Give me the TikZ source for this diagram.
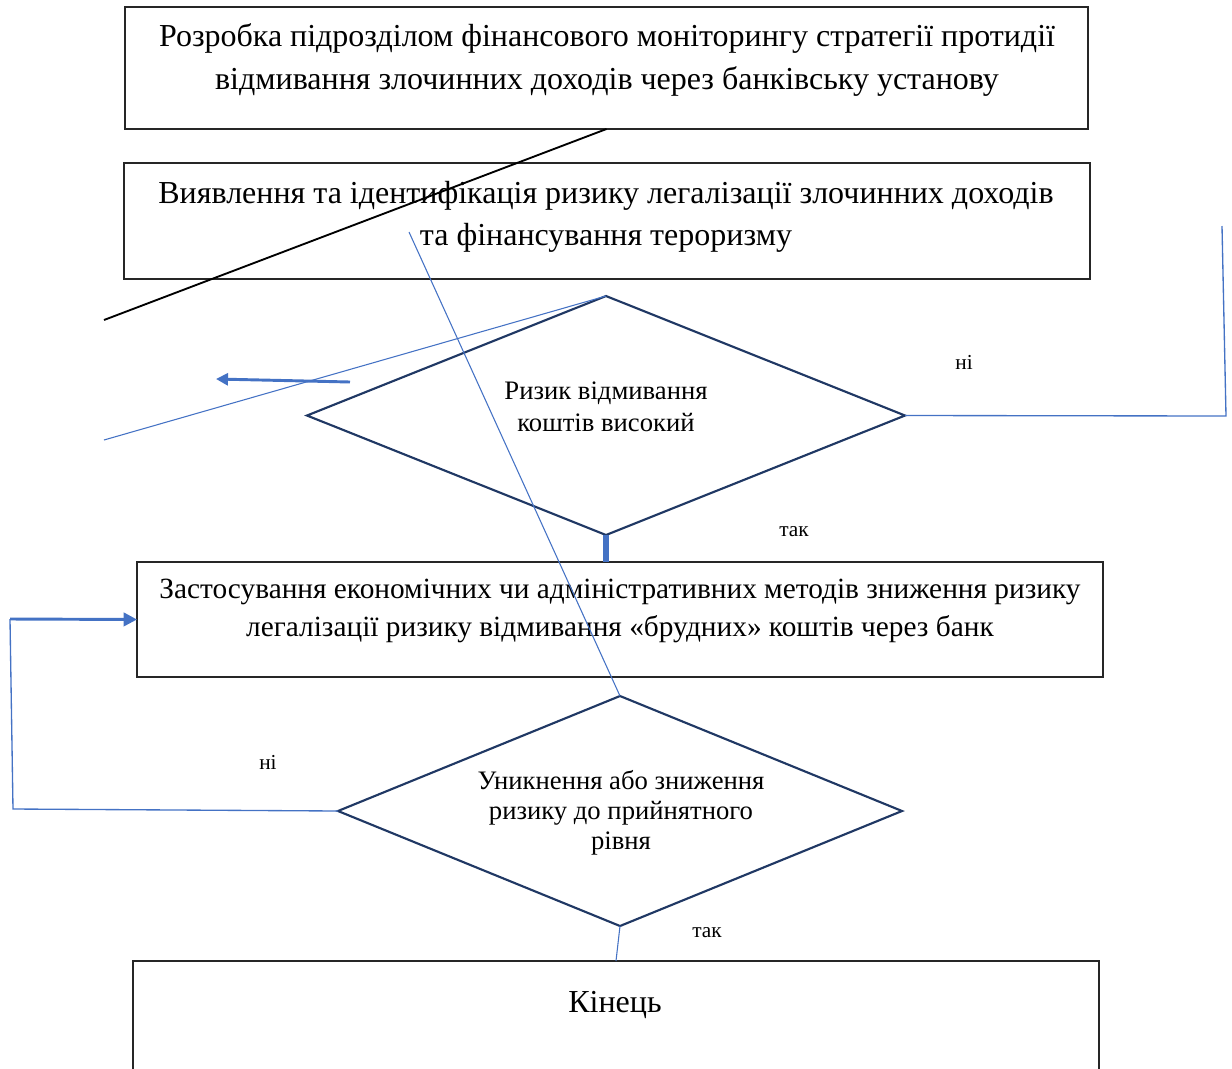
\documentclass[tikz,border=0pt]{standalone}
\usepackage{fontspec}
\setmainfont{Liberation Serif}
\usetikzlibrary{shapes.geometric, arrows.meta}
\definecolor{navy}{HTML}{203864}
\definecolor{accent}{HTML}{4472C4}

\begin{document}
\begin{tikzpicture}[
  x=0.75pt, y=-0.75pt,
  box/.style={rectangle,draw=black!85,line width=1pt,inner sep=0pt,outer sep=0pt},
  test/.style={diamond,draw=navy,line width=1.6pt,inner sep=0pt,outer sep=0pt},
  txt/.style={align=center,font=\fontsize{24}{32}\selectfont},
  dtxt/.style={align=center,font=\fontsize{20}{23.5}\selectfont},
  lbl/.style={font=\fontsize{16}{18}\selectfont},
  flow/.style={draw=accent,line width=0.8pt},
  flowbold/.style={draw=accent,line width=2.2pt}
]
\clip (0,0) rectangle (1232,1068);

\node (b1) [box, minimum width=722.25pt, minimum height=91.5pt] at (606.5,68) {};
\node (b2) [box, minimum width=724.5pt, minimum height=87pt] at (607,221) {};
\node (d1) [test, minimum width=448.5pt, minimum height=179.25pt] at (606,415.5) {};
\node (b3) [box, minimum width=724.5pt, minimum height=86.25pt] at (620,619.5) {};
\node (d2) [test, minimum width=423pt, minimum height=172.5pt] at (620,811) {};
\node (b4) [box, minimum width=724.5pt, minimum height=90pt] at (616,1021) {};   % runs off the page

\node (t1) [txt] at (607,60) {Розробка підрозділом фінансового моніторингу стратегії протидії\\відмивання злочинних доходів через банківську установу};
\node (t2) [txt] at (606,217) {Виявлення та ідентифікація ризику легалізації злочинних доходів\\та фінансування тероризму};
\node (t3) [dtxt, font=\fontsize{20}{24}\selectfont] at (606,407) {Ризик відмивання\\коштів високий};
\node (t4) [txt, font=\fontsize{22}{28.5}\selectfont] at (620,611) {Застосування економічних чи адміністративних методів зниження ризику\\легалізації ризику відмивання «брудних» коштів через банк};
\node (t5) [dtxt, font=\fontsize{20}{22.5}\selectfont] at (621,813) {Уникнення або зниження\\ризику до прийнятного\\рівня};
\node (t6) [txt] at (615,1005) {Кінець};

\node (no1)  [lbl] at (964,362) {ні};
\node (yes1) [lbl] at (794,532) {так};
\node (no2)  [lbl] at (268,762) {ні};
\node (yes2) [lbl] at (707,933) {так};

% stray strokes
\coordinate (s1) at (104,320);
\coordinate (s2) at (104,440);
\coordinate (s3) at (409,232);
\coordinate (a1) at (350,382);
\coordinate (a2) at (216,379);
\draw[black, line width=1.4pt] (b1.south) -- (s1);
\draw[flow] (d1.north) -- (s2);
\draw[flow] (s3) -- (d2.north);
\draw[flowbold, -{Triangle[length=9pt,width=9pt]}] (a1) -- (a2);

% flow
\draw[accent, line width=3.8pt] (d1.south) -- (d1.south |- b3.north);
\coordinate (r1) at (1226,416);
\coordinate (r2) at (1222,226);
\draw[flow, line width=1pt] (d1.east) -- (r1) -- (r2);

\coordinate (l1) at (13,809);
\coordinate (l2) at (10,619);
\draw[flow, line width=1pt] (d2.west) -- (l1) -- (l2);
\draw[flowbold, -{Triangle[length=10pt,width=10pt]}] (l2) -- (b3.west);

\draw[flow] (d2.south) -- (b4.north);
\end{tikzpicture}
\end{document}
